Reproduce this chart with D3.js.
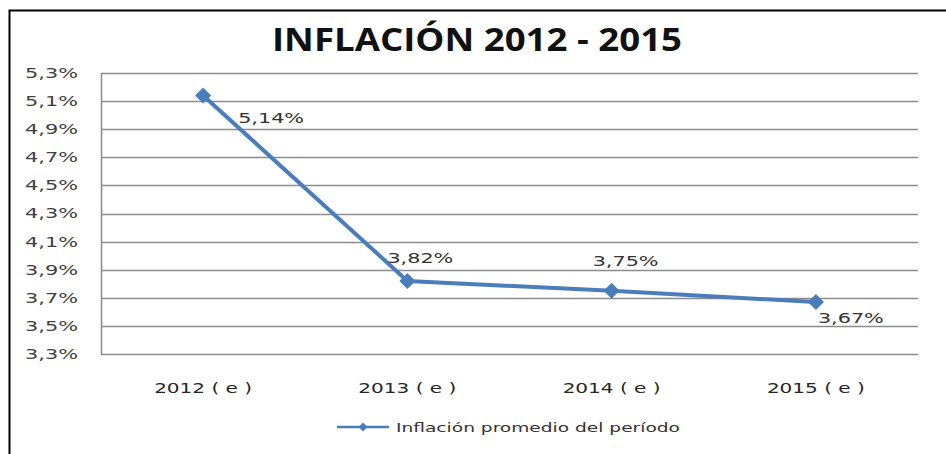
<!DOCTYPE html>
<html>
<head>
<meta charset="utf-8">
<script src="https://cdn.jsdelivr.net/npm/d3@7"></script>
<style>
  body { margin: 0; background: #fff; }
  text { font-family: "DejaVu Sans", Verdana, sans-serif; }
</style>
</head>
<body>
<script>
// data
var years = ["2012 ( e )", "2013 ( e )", "2014 ( e )", "2015 ( e )"];
var inflation = [5.14, 3.82, 3.75, 3.67];
var labels = ["5,14%", "3,82%", "3,75%", "3,67%"];
var yTicks = [3.3, 3.5, 3.7, 3.9, 4.1, 4.3, 4.5, 4.7, 4.9, 5.1, 5.3];
var seriesName = "Inflación promedio del período";
var title = "INFLACIÓN 2012 - 2015";

var W = 946, H = 454;
var margin = { top: 73, right: 28, bottom: 100, left: 101 };
var width = W - margin.left - margin.right;
var height = H - margin.top - margin.bottom;

var svg = d3.select("body").append("svg")
    .attr("width", W)
    .attr("height", H);

// outer frame (top and left only visible)
svg.append("path")
    .attr("d", "M9.5,454 L9.5,10.5 L946,10.5")
    .attr("fill", "none")
    .attr("stroke", "#000")
    .attr("stroke-width", 2);

svg.append("text")
    .attr("x", 477)
    .attr("y", 51)
    .attr("text-anchor", "middle")
    .style("font-family", "'Open Sans', sans-serif")
    .attr("font-weight", "bold")
    .attr("font-size", "33px")
    .attr("textLength", 410)
    .attr("lengthAdjust", "spacingAndGlyphs")
    .attr("fill", "#111")
    .text(title);

var g = svg.append("g")
    .attr("transform", "translate(" + margin.left + "," + margin.top + ")");

var x = d3.scaleBand()
    .domain(years)
    .range([0, width]);

var y = d3.scaleLinear()
    .domain([3.3, 5.3])
    .range([height, 0]);

// gridlines
g.selectAll(".grid")
    .data(yTicks)
    .enter()
    .append("line")
    .attr("x1", 0)
    .attr("x2", width)
    .attr("y1", function(d) { return Math.round(y(d)) + 0.5; })
    .attr("y2", function(d) { return Math.round(y(d)) + 0.5; })
    .attr("stroke", "#8c8c8c")
    .attr("stroke-width", 1.5);

g.append("line")
    .attr("x1", 0.5).attr("x2", 0.5)
    .attr("y1", 0).attr("y2", height)
    .attr("stroke", "#8c8c8c")
    .attr("stroke-width", 1.5);

// y axis labels
var yAxis = d3.axisLeft(y)
    .tickValues(yTicks)
    .tickSize(0)
    .tickPadding(23)
    .tickFormat(function(d) { return d.toFixed(1).replace(".", ",") + "%"; });

g.append("g")
    .call(yAxis)
    .call(function(s) { s.select(".domain").remove(); })
    .selectAll("text")
    .attr("font-size", "14px")
    .attr("textLength", 53)
    .attr("lengthAdjust", "spacingAndGlyphs")
    .attr("fill", "#404040")
    .style("font-family", "'DejaVu Sans', Verdana, sans-serif");

// x axis labels
var xAxis = d3.axisBottom(x).tickSize(0).tickPadding(29);
g.append("g")
    .attr("transform", "translate(0," + height + ")")
    .call(xAxis)
    .call(function(s) { s.select(".domain").remove(); })
    .selectAll("text")
    .attr("font-size", "14px")
    .attr("textLength", 98)
    .attr("lengthAdjust", "spacingAndGlyphs")
    .attr("fill", "#262626")
    .style("font-family", "'DejaVu Sans', Verdana, sans-serif");

var cx = function(i) { return x(years[i]) + x.bandwidth() / 2; };

var line = d3.line()
    .x(function(d, i) { return cx(i); })
    .y(function(d) { return y(d); });

g.append("path")
    .datum(inflation)
    .attr("fill", "none")
    .attr("stroke", "#4a7ebb")
    .attr("stroke-width", 4)
    .attr("d", line);

var diamond = d3.symbol().type(d3.symbolSquare).size(130);

g.selectAll(".pt")
    .data(inflation)
    .enter()
    .append("path")
    .attr("d", diamond)
    .attr("fill", "#4a7ebb")
    .attr("transform", function(d, i) { return "translate(" + cx(i) + "," + y(d) + ") rotate(45)"; });

// data labels
var labelOff = [[35, 27.5], [-20, -18], [-19, -25], [2, 21]];
g.selectAll(".lbl")
    .data(inflation)
    .enter()
    .append("text")
    .attr("x", function(d, i) { return cx(i) + labelOff[i][0]; })
    .attr("y", function(d, i) { return y(d) + labelOff[i][1]; })
    .attr("font-size", "14px")
    .attr("textLength", 66)
    .attr("lengthAdjust", "spacingAndGlyphs")
    .attr("fill", "#333")
    .text(function(d, i) { return labels[i]; });

// legend
var lg = svg.append("g").attr("transform", "translate(337,427)");
lg.append("line")
    .attr("x1", 0).attr("x2", 52)
    .attr("y1", 0).attr("y2", 0)
    .attr("stroke", "#4a7ebb")
    .attr("stroke-width", 2.5);
lg.append("path")
    .attr("d", d3.symbol().type(d3.symbolSquare).size(40))
    .attr("fill", "#4a7ebb")
    .attr("transform", "translate(26,0) rotate(45)");
lg.append("text")
    .attr("x", 59)
    .attr("y", 5)
    .attr("font-size", "13px")
    .attr("textLength", 284)
    .attr("lengthAdjust", "spacingAndGlyphs")
    .attr("fill", "#333")
    .text(seriesName);
</script>
</body>
</html>
